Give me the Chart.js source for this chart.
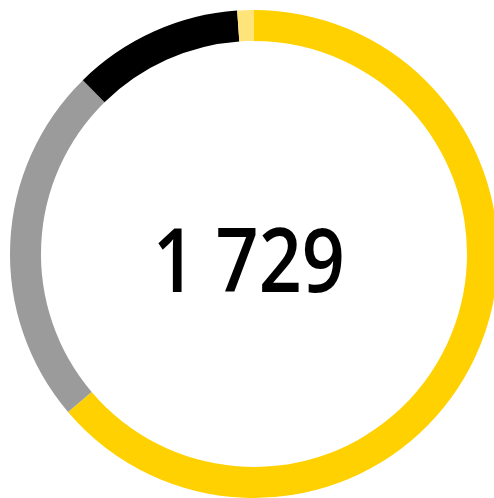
<!DOCTYPE html>
<html>
<head>
<meta charset="utf-8">
<script src="https://cdn.jsdelivr.net/npm/chart.js@4"></script>
<style>
  html, body { margin: 0; padding: 0; background: #fff; overflow: hidden; }
  #wrap { position: absolute; left: 0; top: 0; width: 508px; height: 508px; }
</style>
</head>
<body>
<div id="wrap"><canvas id="chart_ring"></canvas></div>
<script>
var segmentLabels = ['Segment 1', 'Segment 2', 'Segment 3', 'Segment 4'];
var segmentValues = [1103, 412, 195, 19];
var segmentColors = ['#ffd100', '#9b9b9b', '#000000', '#ffe47a'];
var centerLabel = '1 729';

var chart_ring = new Chart(document.getElementById('chart_ring'), {
    type: 'doughnut',
    data: {
        labels: segmentLabels,
        datasets: [
            {
                data: segmentValues,
                backgroundColor: segmentColors,
                borderWidth: 0,
                hoverOffset: 0
            }
        ]
    },
    options: {
        animation: false,
        responsive: true,
        maintainAspectRatio: false,
        cutout: '87.3%',
        layout: {
            padding: 10
        },
        plugins: {
            legend: { display: false },
            tooltip: { enabled: false }
        }
    },
    plugins: [{
        id: 'centerText',
        afterDraw: (chart) => {
            const ctx = chart.ctx;
            const arc = chart.getDatasetMeta(0).data[0];
            ctx.save();
            ctx.font = '600 88px "Open Sans"';
            ctx.fillStyle = '#000';
            ctx.textAlign = 'left';
            ctx.textBaseline = 'alphabetic';
            const m = ctx.measureText(centerLabel);
            const inkW = m.actualBoundingBoxLeft + m.actualBoundingBoxRight;
            const sx = 184 / inkW;
            ctx.translate(arc.x - 4 - 92, arc.y + 38);
            ctx.scale(sx, 1);
            ctx.fillText(centerLabel, m.actualBoundingBoxLeft, 0);
            ctx.restore();
        }
    }]
});
</script>
</body>
</html>
